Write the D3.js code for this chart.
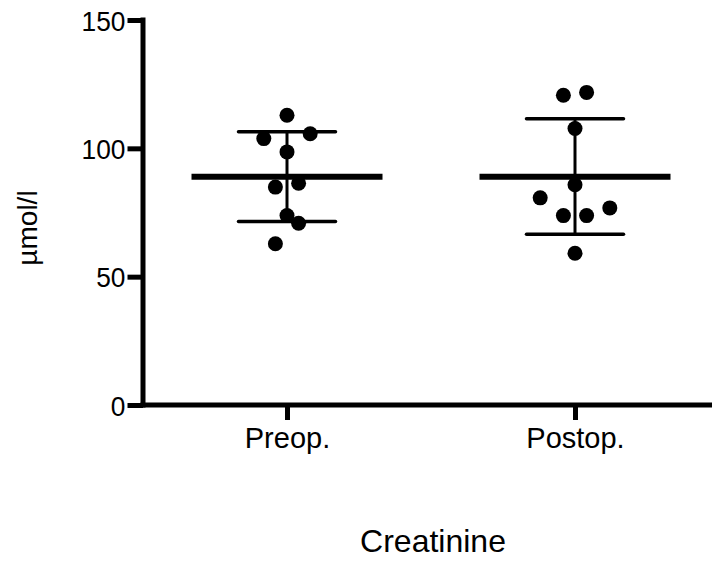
<!DOCTYPE html>
<html>
<head>
<meta charset="utf-8">
<script src="https://cdn.jsdelivr.net/npm/d3@7"></script>
<style>
  html, body { margin: 0; padding: 0; background: #fff; }
  svg { display: block; }
  text { font-family: "Liberation Sans", Arial, sans-serif; fill: #000; }
</style>
</head>
<body>
<svg id="chart" width="712" height="562"></svg>
<script>
// ---- data ----
const categories = ["Preop.", "Postop."];
const preopValues  = [112.9, 103.8, 105.7, 98.6, 84.9, 86.4, 73.8, 70.8, 62.8];
const preopSlots   = [0, -2, 2, 0, -1, 1, 0, 1, -1];      // scatter column (half-dot units)
const postopValues = [120.7, 121.8, 107.7, 85.8, 80.7, 73.8, 73.8, 76.8, 59.1];
const postopSlots  = [-1, 1, 0, 0, -3, -1, 1, 3, 0];
const means = [88.9, 88.9];
const sdUpper = [106.5, 111.5];
const sdLower = [71.5, 66.5];
const yTicks = [0, 50, 100, 150];
const yLabel = "µmol/l";
const xTitle = "Creatinine";

// ---- layout ----
const svg = d3.select("#chart");
const mLeft = 143, mRight = 719, mTop = 20, mBottom = 405;

const x = d3.scalePoint().domain(categories).range([mLeft, mRight]).padding(0.5);
const y = d3.scaleLinear().domain([0, 150]).range([mBottom, mTop]);

const series = [
  { cat: categories[0], values: preopValues, slots: preopSlots },
  { cat: categories[1], values: postopValues, slots: postopSlots }
];

const slotW = 11.6, r = 7.5;

// error bars + mean lines
series.forEach((s, i) => {
  const cx = x(s.cat);
  const g = svg.append("g");
  g.append("line").attr("x1", cx).attr("x2", cx)
    .attr("y1", y(sdUpper[i])).attr("y2", y(sdLower[i]))
    .attr("stroke", "#000").attr("stroke-width", 3);
  [sdUpper[i], sdLower[i]].forEach(v => {
    g.append("line").attr("x1", cx - 48.5).attr("x2", cx + 48.5)
      .attr("y1", y(v)).attr("y2", y(v))
      .attr("stroke", "#000").attr("stroke-width", 3.5).attr("stroke-linecap", "round");
  });
  g.append("line").attr("x1", cx - 95.5).attr("x2", cx + 95.5)
    .attr("y1", y(means[i])).attr("y2", y(means[i]))
    .attr("stroke", "#000").attr("stroke-width", 6);
});

// points
series.forEach(s => {
  const cx = x(s.cat);
  svg.append("g").selectAll("circle")
    .data(s.values.map((v, k) => ({ v, slot: s.slots[k] })))
    .join("circle")
    .attr("cx", d => cx + d.slot * slotW)
    .attr("cy", d => y(d.v))
    .attr("r", r)
    .attr("fill", "#000");
});

// y axis
const yAxis = d3.axisLeft(y).tickValues(yTicks).tickSize(15.5).tickSizeOuter(0).tickPadding(2);
const gy = svg.append("g").attr("transform", `translate(${mLeft},0)`).call(yAxis);
gy.select(".domain").attr("stroke-width", 5).attr("d", `M0,${mTop - 2.5}V${mBottom + 2.5}`);
gy.selectAll(".tick line").attr("stroke-width", 5);
gy.selectAll(".tick text")
  .style("font-size", "28px").attr("font-family", null).attr("dy", "0.36em")
  .attr("x", -17.5 / 0.94)
  .attr("transform", "scale(0.94,1)");

// x axis
const xAxis = d3.axisBottom(x).tickSize(15).tickSizeOuter(0).tickPadding(7);
const gx = svg.append("g").attr("transform", `translate(0,${mBottom})`).call(xAxis);
gx.select(".domain").attr("stroke-width", 5).attr("d", `M${mLeft - 2.5},0H712`);
gx.selectAll(".tick line").attr("stroke-width", 5);
gx.selectAll(".tick text").style("font-size", "29px").attr("font-family", null);

// titles
svg.append("text")
  .attr("transform", `translate(36.5,228) rotate(-90)`)
  .attr("text-anchor", "middle")
  .style("font-size", "28px")
  .text(yLabel);

svg.append("text")
  .attr("x", 433).attr("y", 552)
  .attr("text-anchor", "middle")
  .style("font-size", "32px")
  .text(xTitle);
</script>
</body>
</html>
